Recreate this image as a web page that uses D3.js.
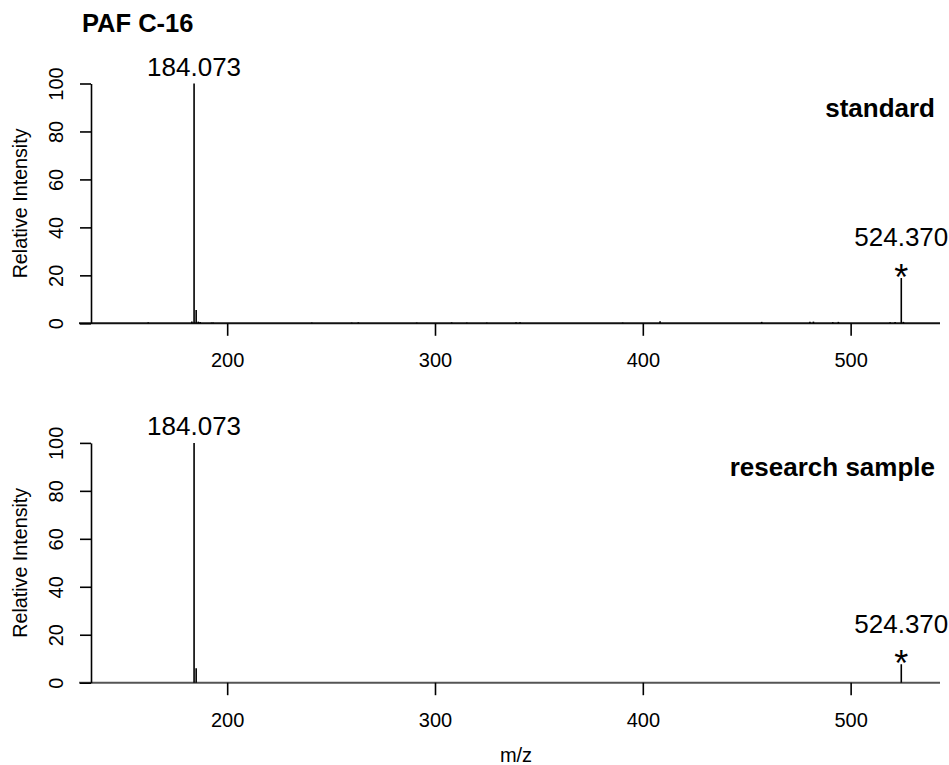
<!DOCTYPE html>
<html>
<head>
<meta charset="utf-8">
<script src="https://cdn.jsdelivr.net/npm/d3@7"></script>
<style>
  body { margin: 0; background: #fff; }
  svg { font-family: "Liberation Sans", Arial, sans-serif; }
</style>
</head>
<body>
<svg id="chart" width="949" height="765"></svg>
<script>
// m/z ticks and intensity ticks
const mzTicks = [200, 300, 400, 500];
const intensityTicks = [0, 20, 40, 60, 80, 100];

// standard spectrum (m/z, relative intensity)
const standardMz = [162.0, 183.0, 184.073, 185.076, 186.1, 187.0, 192.5, 193.3, 240.7, 259.9, 263.1,
  291.2, 308.0, 315.3, 324.9, 339.0, 340.9, 390.3, 408.3, 457.2, 480.4, 482.1, 491.4, 494.1,
  519.0, 521.4, 524.370, 525.4];
const standardInt = [0.4, 0.8, 100, 5.5, 0.7, 0.5, 0.3, 0.3, 0.3, 0.3, 0.4,
  0.3, 0.4, 0.3, 0.3, 0.4, 0.4, 0.3, 0.9, 0.6, 0.6, 0.7, 0.5, 0.6,
  0.4, 0.5, 18.9, 0.6];

// research sample spectrum
const sampleMz = [184.073, 185.076, 524.370];
const sampleInt = [100, 6.0, 7.7];

// annotated peaks; starred ones get an asterisk
const labelMz = [184.073, 524.370];
const starredMz = [524.370];

const svg = d3.select('#chart');

svg.append('text')
  .attr('x', 82).attr('y', 32)
  .attr('font-size', 25.5).attr('font-weight', 'bold')
  .text('PAF C-16');

const x = d3.scaleLinear().domain([128.7, 543.0]).range([79, 940]);
const axisX = 91;

function drawPanel(top, name, mzs, ints, baseColor) {
  const y = d3.scaleLinear().domain([0, 100]).range([top + 239.8, top]);
  const g = svg.append('g');

  // baseline
  g.append('line')
    .attr('x1', x.range()[0]).attr('x2', x.range()[1])
    .attr('y1', y(0)).attr('y2', y(0))
    .attr('stroke', baseColor).attr('stroke-width', 2);

  // peaks
  const peaks = mzs.map((m, i) => ({ mz: m, v: ints[i] }));
  g.selectAll('.peak')
    .data(peaks)
    .enter()
    .append('line')
    .attr('class', 'peak')
    .attr('x1', d => x(d.mz)).attr('x2', d => x(d.mz))
    .attr('y1', y(0)).attr('y2', d => y(d.v))
    .attr('stroke', '#000').attr('stroke-width', 1.6);

  // x axis
  const xAxis = d3.axisBottom(x).tickValues(mzTicks).tickSize(12.5).tickSizeOuter(0);
  const gx = g.append('g')
    .attr('transform', `translate(0, ${y(0)})`)
    .call(xAxis);
  gx.select('.domain').remove();
  gx.selectAll('line').attr('stroke', '#000').attr('stroke-width', 1.6);
  gx.selectAll('text')
    .attr('y', 44).attr('dy', 0)
    .attr('font-size', 20).attr('fill', '#000')
    .attr('font-family', '"Liberation Sans", Arial, sans-serif');

  // y axis
  const yAxis = d3.axisLeft(y).tickValues(intensityTicks).tickSize(11).tickSizeOuter(0);
  const gy = g.append('g')
    .attr('transform', `translate(${axisX}, 0)`)
    .call(yAxis);
  gy.select('.domain').attr('stroke', '#000').attr('stroke-width', 1.6);
  gy.selectAll('line').attr('stroke', '#000').attr('stroke-width', 1.6);
  gy.selectAll('text')
    .attr('transform', 'rotate(-90)')
    .attr('x', 0).attr('y', -27.7).attr('dy', 0)
    .attr('text-anchor', 'middle')
    .attr('font-size', 20).attr('fill', '#000')
    .attr('font-family', '"Liberation Sans", Arial, sans-serif');

  g.append('text')
    .attr('transform', `translate(27, ${(y(0) + y(100)) / 2}) rotate(-90)`)
    .attr('text-anchor', 'middle')
    .attr('font-size', 19.7)
    .text('Relative Intensity');

  // panel name
  g.append('text')
    .attr('x', 935).attr('y', top + 33)
    .attr('text-anchor', 'end')
    .attr('font-size', 26).attr('font-weight', 'bold')
    .text(name);

  // peak labels
  const labelled = peaks.filter(d => labelMz.includes(d.mz));
  labelled.forEach(d => {
    const starred = starredMz.includes(d.mz);
    const py = y(d.v);
    g.append('text')
      .attr('x', x(d.mz)).attr('y', starred ? py - 31.6 : py - 8)
      .attr('text-anchor', 'middle')
      .attr('font-size', 26)
      .text(d.mz.toFixed(3));
    if (starred) {
      g.append('text')
        .attr('x', x(d.mz)).attr('y', py + 12)
        .attr('text-anchor', 'middle')
        .attr('font-size', 36)
        .text('*');
    }
  });
}

drawPanel(83.5, 'standard', standardMz, standardInt, '#111');
drawPanel(442.9, 'research sample', sampleMz, sampleInt, '#555');

svg.append('text')
  .attr('x', 516).attr('y', 761.5)
  .attr('text-anchor', 'middle')
  .attr('font-size', 20)
  .text('m/z');
</script>
</body>
</html>
